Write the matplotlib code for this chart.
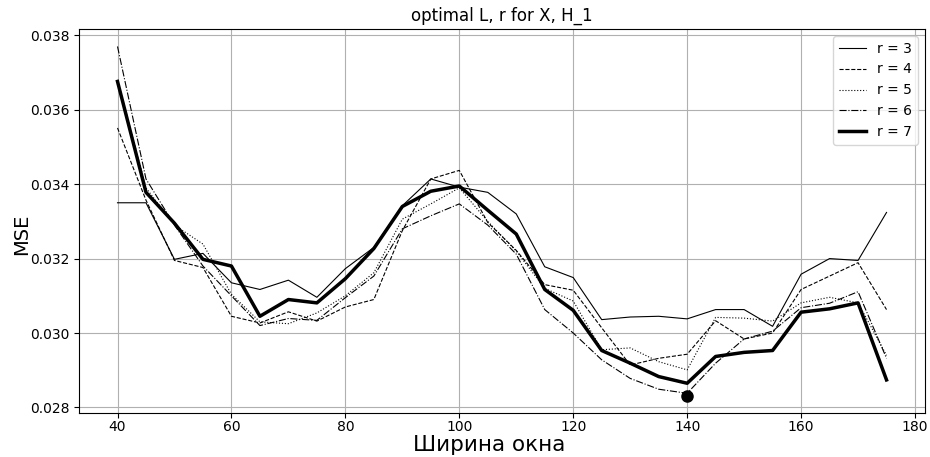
import numpy as np
import matplotlib
matplotlib.use("Agg")
import matplotlib.pyplot as plt

# window widths
L = np.arange(40, 180, 5)

mse_r3 = [0.03350, 0.03350, 0.03198, 0.03214, 0.03135, 0.03117, 0.03142, 0.03096,
          0.03173, 0.03230, 0.03342, 0.03414, 0.03392, 0.03378, 0.03320, 0.03178,
          0.03149, 0.03036, 0.03043, 0.03045, 0.03038, 0.03063, 0.03063, 0.03018,
          0.03158, 0.03200, 0.03195, 0.03324]
mse_r4 = [0.03551, 0.03357, 0.03195, 0.03176, 0.03045, 0.03027, 0.03057, 0.03032,
          0.03070, 0.03090, 0.03275, 0.03414, 0.03437, 0.03297, 0.03222, 0.03130,
          0.03115, 0.03014, 0.02914, 0.02932, 0.02943, 0.03033, 0.02984, 0.03000,
          0.03117, 0.03153, 0.03189, 0.03063]
mse_r5 = [0.03680, 0.03390, 0.03290, 0.03239, 0.03104, 0.03030, 0.03025, 0.03054,
          0.03100, 0.03162, 0.03306, 0.03347, 0.03390, 0.03300, 0.03220, 0.03120,
          0.03086, 0.02955, 0.02960, 0.02923, 0.02901, 0.03042, 0.03040, 0.03032,
          0.03081, 0.03096, 0.03081, 0.02940]
mse_r6 = [0.03770, 0.03414, 0.03290, 0.03180, 0.03100, 0.03020, 0.03039, 0.03034,
          0.03095, 0.03153, 0.03280, 0.03315, 0.03347, 0.03290, 0.03212, 0.03063,
          0.03000, 0.02928, 0.02878, 0.02849, 0.02838, 0.02919, 0.02984, 0.03005,
          0.03068, 0.03080, 0.03111, 0.02932]
mse_r7 = [0.03676, 0.03378, 0.03295, 0.03198, 0.03180, 0.03045, 0.03090, 0.03081,
          0.03146, 0.03227, 0.03340, 0.03381, 0.03395, 0.03330, 0.03266, 0.03117,
          0.03061, 0.02953, 0.02919, 0.02883, 0.02865, 0.02937, 0.02948, 0.02953,
          0.03056, 0.03065, 0.03081, 0.02874]

best_L = 140
best_mse = 0.02832

series = [
    ("r = 3", mse_r3, "-", 0.8),
    ("r = 4", mse_r4, "--", 0.8),
    ("r = 5", mse_r5, ":", 0.8),
    ("r = 6", mse_r6, "-.", 0.8),
    ("r = 7", mse_r7, "-", 2.5),
]

fig = plt.figure(figsize=(9.3, 4.57), dpi=100)
ax = fig.add_axes([0.085, 0.0963, 0.9096, 0.8402])

for label, vals, ls, lw in series:
    ax.plot(L, vals, color="black", linestyle=ls, linewidth=lw, label=label)

ax.plot(best_L, best_mse, "o", color="black", markersize=8)

ax.set_title("optimal L, r for X, H_1", fontsize=12)
ax.set_xlabel("Ширина окна", fontsize=15.5)
ax.set_ylabel("MSE", fontsize=14)
ax.xaxis.label.set_va("center")
ax.yaxis.label.set_va("center")
ax.xaxis.set_label_coords(0.4846, -0.083)
ax.yaxis.set_label_coords(-0.0674, 0.466)
ax.tick_params(axis="x", pad=1.5)
ax.grid(True)
ax.legend(loc="upper right", fontsize=10)

fig.savefig("out.png", dpi=100)
